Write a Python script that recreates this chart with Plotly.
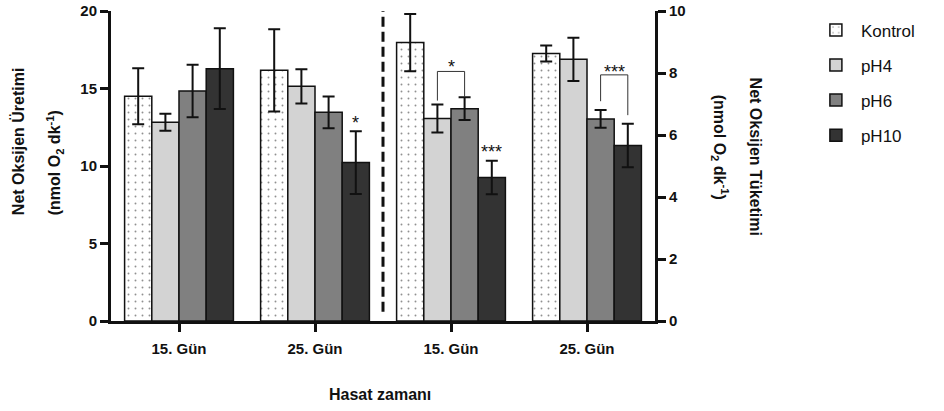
import plotly.graph_objects as go

# ---- data ----
series = ["Kontrol", "pH4", "pH6", "pH10"]
tick_labels = ["15. Gün", "25. Gün", "15. Gün", "25. Gün"]

# Left axis: Net Oksijen Üretimi (15. Gün, 25. Gün)
uretim_vals = {
    "Kontrol": [14.5, 16.17],
    "pH4": [12.82, 15.14],
    "pH6": [14.84, 13.46],
    "pH10": [16.28, 10.22],
}
uretim_err = {
    "Kontrol": [1.8, 2.65],
    "pH4": [0.55, 1.1],
    "pH6": [1.7, 1.02],
    "pH10": [2.6, 2.03],
}
# Right axis: Net Oksijen Tüketimi (15. Gün, 25. Gün)
tuketim_vals = {
    "Kontrol": [8.98, 8.63],
    "pH4": [6.53, 8.44],
    "pH6": [6.85, 6.52],
    "pH10": [4.63, 5.66],
}
tuketim_err = {
    "Kontrol": [0.92, 0.26],
    "pH4": [0.45, 0.7],
    "pH6": [0.37, 0.29],
    "pH10": [0.54, 0.7],
}

colors = {"Kontrol": "white", "pH4": "#d3d3d3", "pH6": "#808080", "pH10": "#333333"}
FONT = "Arial, Liberation Sans, sans-serif"

fig = go.Figure()
bar_w = 0.2
for i, s in enumerate(series):
    offset = -0.4 + i * bar_w
    marker = dict(color=colors[s], line=dict(color="#111", width=1.5))
    if s == "Kontrol":
        marker["pattern"] = dict(shape=".", fgcolor="#222", bgcolor="white",
                                 size=7, solidity=0.06)
    err_style = dict(type="data", color="#111", thickness=2, width=6)
    fig.add_trace(go.Bar(
        x=[0, 1], y=uretim_vals[s], name=s, legendgroup=s,
        width=bar_w, offset=offset, marker=marker,
        error_y=dict(array=uretim_err[s], **err_style),
        xaxis="x", yaxis="y"))
    fig.add_trace(go.Bar(
        x=[2, 3], y=tuketim_vals[s], name=s, legendgroup=s, showlegend=False,
        width=bar_w, offset=offset, marker=marker,
        error_y=dict(array=tuketim_err[s], **err_style),
        xaxis="x", yaxis="y2"))

tick_font = dict(family=FONT, size=15, color="#111", weight="bold")
axis_common = dict(showline=True, linecolor="#111", linewidth=3, ticks="outside",
                   ticklen=8, tickwidth=3, tickcolor="#111", showgrid=False,
                   zeroline=False, automargin=False, tickfont=tick_font)

fig.update_layout(
    width=944, height=411,
    margin=dict(l=111, r=289, t=11, b=90, autoexpand=False),
    plot_bgcolor="white", paper_bgcolor="white",
    barmode="overlay",
    font=dict(family=FONT, color="#111"),
    xaxis=dict(range=[-0.5, 3.5], tickvals=[0, 1, 2, 3], ticktext=tick_labels,
               ticklabelstandoff=4, **axis_common),
    yaxis=dict(range=[0, 20], tickvals=[0, 5, 10, 15, 20], **axis_common),
    yaxis2=dict(range=[0, 10], tickvals=[0, 2, 4, 6, 8, 10], overlaying="y",
                side="right", **axis_common),
    legend=dict(xref="container", yref="container", x=0.859, y=0.97,
                xanchor="left", yanchor="top",
                font=dict(family=FONT, size=17, color="#111"),
                tracegroupgap=10, itemwidth=40, bgcolor="rgba(0,0,0,0)"),
)

# dashed separator
fig.add_shape(type="line", xref="x", yref="y", x0=1.5, x1=1.5, y0=0.6, y1=20,
              line=dict(color="#111", width=3, dash="10px,5px"))

# significance brackets (right axis)
fig.add_shape(type="path", xref="x", yref="y2",
              path="M 1.9,7.11 L 1.9,8.05 L 2.1,8.05 L 2.1,7.23",
              line=dict(color="#333", width=1))
fig.add_shape(type="path", xref="x", yref="y2",
              path="M 3.1,7.09 L 3.1,7.94 L 3.3,7.94 L 3.3,6.64",
              line=dict(color="#333", width=1))

star_font = dict(family=FONT, size=18, color="#111")
for sx, sy, yr, txt in [(1.3, 12.75, "y", "*"), (2.0, 8.2, "y2", "*"),
                        (2.3, 5.45, "y2", "***"), (3.2, 8.03, "y2", "***")]:
    fig.add_annotation(x=sx, y=sy, xref="x", yref=yr, text=txt, showarrow=False,
                       xanchor="center", yanchor="middle", font=star_font)

title_font = dict(family=FONT, size=16, color="#111", weight="bold")
centered = dict(xref="paper", yref="paper", showarrow=False, xanchor="center",
                yanchor="middle", font=title_font)
# left y titles
fig.add_annotation(x=-0.171, y=0.58, text="Net Oksijen Üretimi", textangle=-90, **centered)
fig.add_annotation(x=-0.103, y=0.512, text="(nmol O<sub>2</sub> dk<sup>-1</sup>)",
                   textangle=-90, **centered)
# right y titles
fig.add_annotation(x=1.184, y=0.53, text="Net Oksijen Tüketimi", textangle=90, **centered)
fig.add_annotation(x=1.119, y=0.56, text="(nmol O<sub>2</sub> dk<sup>-1</sup>)",
                   textangle=90, **centered)
# x title
fig.add_annotation(x=0.495, y=-0.237, text="Hasat zamanı", **centered)

fig.write_html("out.html", config={"displayModeBar": False},
               post_script="document.body.style.margin='0';")
